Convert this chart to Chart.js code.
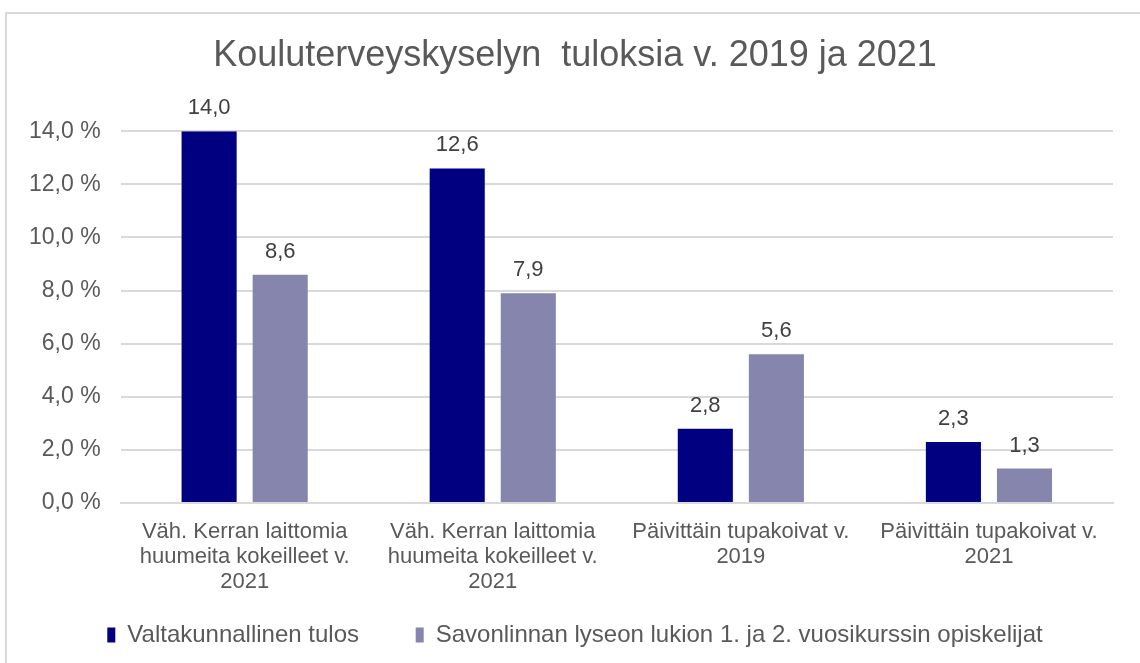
<!DOCTYPE html>
<html>
<head>
<meta charset="utf-8">
<script src="https://cdn.jsdelivr.net/npm/chart.js@4/dist/chart.umd.min.js"></script>
<style>
  html, body { margin: 0; padding: 0; background: #fff; overflow: hidden; }
  #frame { position: absolute; left: 5px; top: 12px; width: 1140px; height: 660px; border: 2px solid #d9d9d9; box-sizing: border-box; }
  #wrap { position: absolute; left: 0; top: 0; width: 1140px; height: 663px; }
</style>
</head>
<body>
<div id="frame"></div>
<div id="wrap"><canvas id="chart"></canvas></div>
<script>
// kategoriat (rivitetty kuten alkuperäisessä)
const kategoriat = [
  ['Väh. Kerran laittomia', 'huumeita kokeilleet v.', '2021'],
  ['Väh. Kerran laittomia', 'huumeita kokeilleet v.', '2021'],
  ['Päivittäin tupakoivat v.', '2019'],
  ['Päivittäin tupakoivat v.', '2021']
];
const valtakunnallinen = [14.0, 12.6, 2.8, 2.3];
const savonlinna = [8.6, 7.9, 5.6, 1.3];
const sarjaNimet = ['Valtakunnallinen tulos', 'Savonlinnan lyseon lukion 1. ja 2. vuosikurssin opiskelijat'];
const yTicks = [0, 2, 4, 6, 8, 10, 12, 14];

const FONT = '"Liberation Sans", Arial, sans-serif';
const FRAME_X = 5; // reunuksen siirtymä vasemmalla
const fi = v => v.toFixed(1).replace('.', ',');

// arvot pylväiden päälle
const arvoLabelit = {
  id: 'arvoLabelit',
  afterDatasetsDraw(chart) {
    const ctx = chart.ctx;
    ctx.save();
    ctx.font = '22px ' + FONT;
    ctx.fillStyle = '#404040';
    ctx.textAlign = 'center';
    ctx.textBaseline = 'bottom';
    chart.data.datasets.forEach((ds, i) => {
      chart.getDatasetMeta(i).data.forEach((bar, j) => {
        ctx.fillText(fi(ds.data[j]), bar.x, bar.y - 12);
      });
    });
    ctx.restore();
  }
};

// otsikko ja selite keskelle reunusta, ei piirtoalueen mukaan
const keskitys = {
  id: 'keskitys',
  afterLayout(chart) {
    const mid = FRAME_X + chart.width / 2;
    [chart.titleBlock, chart.legend].forEach(b => {
      const half = (b.right - b.left) / 2;
      b.left = mid - half;
      b.right = mid + half;
    });
  }
};

new Chart(document.getElementById('chart'), {
  type: 'bar',
  data: {
    labels: kategoriat,
    datasets: [
      { label: sarjaNimet[0], data: valtakunnallinen, backgroundColor: '#000080' },
      { label: sarjaNimet[1], data: savonlinna, backgroundColor: '#8585ae' }
    ]
  },
  options: {
    responsive: true,
    maintainAspectRatio: false,
    animation: false,
    layout: { padding: { left: 9, right: 27, top: 0, bottom: 6 } },
    datasets: { bar: { categoryPercentage: 0.573, barPercentage: 0.775 } },
    plugins: {
      title: {
        display: true,
        text: 'Kouluterveyskyselyn  tuloksia v. 2019 ja 2021',
        color: '#595959',
        font: { family: FONT, size: 36, weight: 'normal' },
        padding: { top: 34, bottom: 54 }
      },
      legend: {
        position: 'bottom',
        labels: {
          color: '#595959',
          font: { family: FONT, size: 24 },
          boxWidth: 8, boxHeight: 15,
          padding: 10,
          generateLabels(chart) {
            const items = Chart.defaults.plugins.legend.labels.generateLabels(chart);
            items.forEach((it, i) => { if (i < items.length - 1) it.text += '       '; });
            return items;
          }
        }
      },
      tooltip: { enabled: false }
    },
    scales: {
      x: {
        grid: { display: false },
        border: { color: '#d9d9d9', width: 2 },
        ticks: { color: '#595959', font: { family: FONT, size: 22, lineHeight: 1.15 }, maxRotation: 0, autoSkip: false, padding: 8 },
        afterFit(s) { s.height += 10; }
      },
      y: {
        min: 0, max: 14,
        afterBuildTicks: s => { s.ticks = yTicks.map(v => ({ value: v })); },
        grid: { color: '#d9d9d9', lineWidth: 2, drawTicks: false },
        border: { display: false },
        ticks: {
          color: '#595959',
          font: { family: FONT, size: 23 },
          padding: 20,
          callback: v => fi(v) + ' %'
        }
      }
    }
  },
  plugins: [arvoLabelit, keskitys]
});
</script>
</body>
</html>
